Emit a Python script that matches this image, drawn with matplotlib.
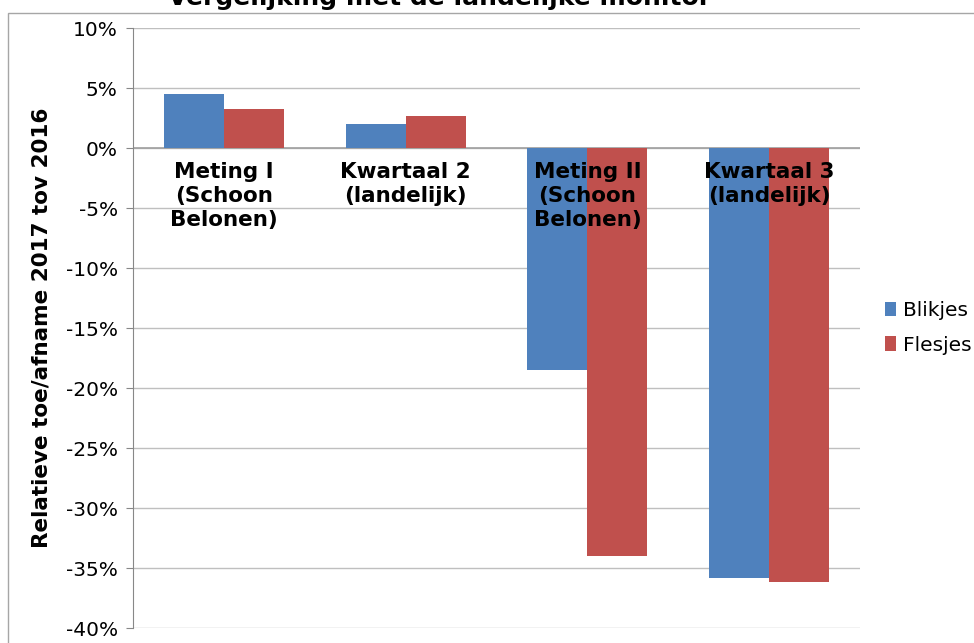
import matplotlib
matplotlib.use("Agg")
import matplotlib.pyplot as plt
import numpy as np
from matplotlib.patches import Rectangle

categories = ["Meting I\n(Schoon\nBelonen)", "Kwartaal 2\n(landelijk)",
              "Meting II\n(Schoon\nBelonen)", "Kwartaal 3\n(landelijk)"]
blikjes = [4.5, 2.0, -18.5, -35.8]
flesjes = [3.25, 2.7, -34.0, -36.2]
yticks = [10, 5, 0, -5, -10, -15, -20, -25, -30, -35, -40]

blue = "#4F81BD"
red = "#C0504D"
grid = "#BFBFBF"

fig = plt.figure(figsize=(9.74, 6.43), dpi=100)
ax = fig.add_axes([133 / 974, 1 - 628 / 643, (860 - 133) / 974, (628 - 28) / 643])

x = np.arange(len(categories))
w = 0.33
ax.bar(x - w / 2, blikjes, w, color=blue, label="Blikjes", zorder=3)
ax.bar(x + w / 2, flesjes, w, color=red, label="Flesjes", zorder=3)

ax.set_xlim(-0.5, len(categories) - 0.5)
ax.set_ylim(-40, 10)
ax.set_yticks(yticks)
ax.set_yticklabels([f"{v}%" for v in yticks], fontsize=14.5)
ax.set_xticks([])
ax.grid(axis="y", color=grid, linewidth=1, zorder=0)
ax.axhline(0, color="#A0A0A0", linewidth=1.2, zorder=2)
for s in ("top", "right", "bottom"):
    ax.spines[s].set_visible(False)
ax.spines["left"].set_color("#888888")
ax.tick_params(axis="y", direction="out", length=5, color="#888888", pad=6)

for i, lab in enumerate(categories):
    ax.text(i, -1.2, lab, ha="center", va="top", fontsize=15.5,
            fontweight="bold", linespacing=1.25, zorder=4)

ax.set_ylabel("Relatieve toe/afname 2017 tov 2016", fontsize=15.5,
              fontweight="bold", labelpad=10)

ax.legend(loc="center left", bbox_to_anchor=(1.01, 0.5), frameon=False,
          fontsize=14.5, handlelength=0.55, handleheight=0.7,
          handletextpad=0.3, labelspacing=0.75)

# partially cut off title at the top
fig.text(440 / 974, 1 - 5 / 643, "Vergelijking met de landelijke monitor",
         ha="center", va="baseline", fontsize=18, fontweight="bold")

# chart frame
fig.patches.append(Rectangle((8 / 974, -0.01), 1.0, 1 - 13 / 643 + 0.01,
                             transform=fig.transFigure, fill=False,
                             edgecolor="#A6A6A6", linewidth=1))

fig.savefig("out.png", dpi=100)
